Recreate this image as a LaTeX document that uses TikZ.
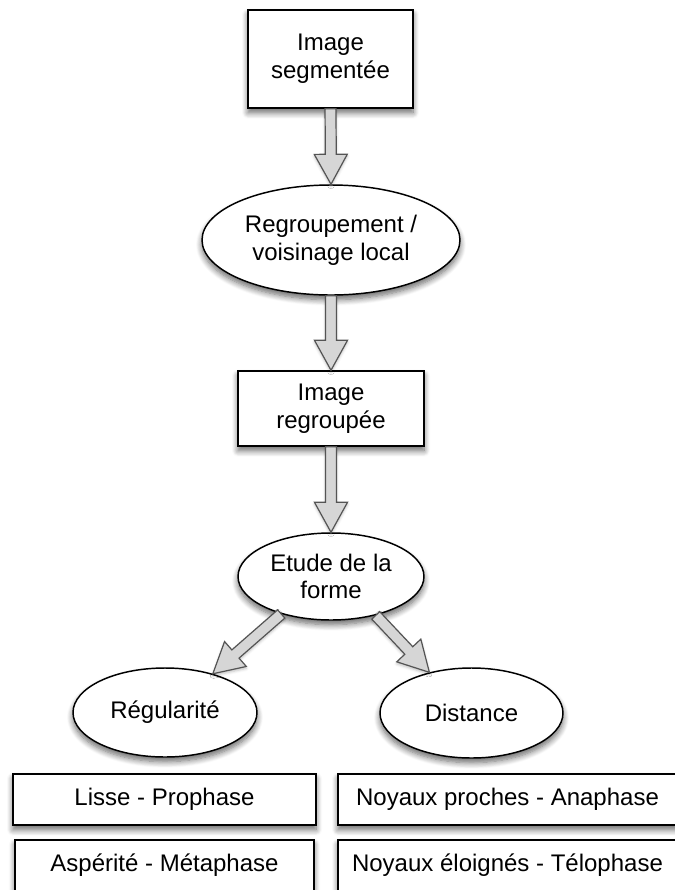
\documentclass[tikz,border=0pt]{standalone}
\usepackage{fontspec}
\setmainfont{Liberation Sans}
\usepackage{tikz}
\usetikzlibrary{calc, shapes.geometric, shadows.blur}
\definecolor{flechegray}{rgb}{0.84, 0.84, 0.84}
\definecolor{bordgray}{rgb}{0.33, 0.33, 0.33}

% grosse fleche creuse entre deux points nommes
\newcommand{\grossefleche}[2]{%
	\path (#1) coordinate (fa) (#2) coordinate (fb);
	\coordinate (fh) at ($(fb)!22.5pt!(fa)$);
	\draw[fleche] ($(fa)!4.1pt!90:(fb)$) -- ($(fh)!4.1pt!90:(fb)$) -- ($(fh)!12.4pt!90:(fb)$) -- (fb)
		-- ($(fh)!12.4pt!-90:(fb)$) -- ($(fh)!4.1pt!-90:(fb)$) -- ($(fa)!4.1pt!-90:(fb)$) -- cycle;
}

\begin{document}
\begin{tikzpicture}[x=0.75pt, y=-0.75pt,
		boite/.style={draw, line width=1.1pt, fill=white, inner sep=0pt, align=center,
			font=\fontsize{18}{20.8}\selectfont,
			blur shadow={shadow xshift=0pt, shadow yshift=-3.5pt, shadow blur radius=4.5pt, shadow blur steps=8, shadow opacity=60}},
		bulle/.style={boite, ellipse},
		fleche/.style={draw=bordgray, fill=flechegray, line width=0.9pt, line join=miter,
			blur shadow={shadow xshift=0pt, shadow yshift=-1.5pt, shadow blur radius=2pt, shadow blur steps=4, shadow opacity=25}}]
	\path[use as bounding box, clip] (0,0) rectangle (675,890);

	% chaine principale
	\node[boite, minimum width=123.75pt, minimum height=73.5pt] (img1) at (330.5,59) {Image\\segment\'ee};
	\node[bulle, minimum width=193.5pt, minimum height=82.5pt] (regroup) at (331,240) {Regroupement /\\voisinage local};
	\node[boite, minimum width=139.5pt, minimum height=56.25pt] (img2) at (331,408.5) {Image\\regroup\'ee};
	\node[bulle, minimum width=139.5pt, minimum height=65.25pt] (etude) at (331,576.5) {Etude de la\\forme};

	% deux branches
	\node[bulle, minimum width=138pt, minimum height=66.75pt] (regul) at (165,712.5) {R\'egularit\'e};
	\node[bulle, minimum width=137.25pt, minimum height=67.5pt] (dist) at (471.5,713) {Distance};

	% phases
	\node[boite, minimum width=227.25pt, minimum height=38.25pt] (lisse) at (164.5,799.5) {Lisse - Prophase};
	\node[boite, minimum width=224.25pt, minimum height=38.25pt] (asperite) at (164.5,865.5) {Asp\'erit\'e - M\'etaphase};
	\node[boite, minimum width=254.25pt, minimum height=38.25pt] (proches) at (507.5,799.5) {Noyaux proches - Anaphase};
	\node[boite, minimum width=254.25pt, minimum height=38.25pt] (eloignes) at (507.5,865.5) {Noyaux \'eloign\'es - T\'elophase};

	% fleches
	\grossefleche{img1.south}{regroup.north}
	\grossefleche{regroup.south}{img2.north}
	\grossefleche{img2.south}{etude.north}
	\grossefleche{etude.217}{regul.39}
	\grossefleche{etude.319}{dist.136}
\end{tikzpicture}
\end{document}
